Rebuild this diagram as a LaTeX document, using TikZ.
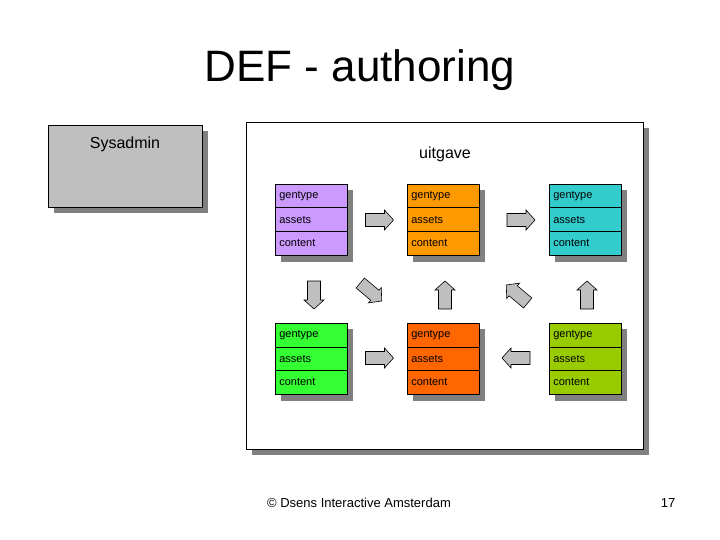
\documentclass[tikz,border=0pt]{standalone}
\usepackage{fontspec}
\setmainfont{Liberation Sans}
\begin{document}
\begin{tikzpicture}[x=1pt,y=-1pt,
  cell/.style={draw=black,line width=0.6pt,minimum width=72pt,minimum height=23.5pt,inner ysep=0pt,inner xsep=4pt,font=\fontsize{11}{13}\selectfont,anchor=north west,text width=64pt,align=left},
  barrow/.pic={\draw[fill=black!25,line width=0.6pt] (-14,-6.5)--(5,-6.5)--(5,-10)--(14,0)--(5,10)--(5,6.5)--(-14,6.5)--cycle;}]
\useasboundingbox (0,0) rectangle (720,540);
\node[font=\fontsize{44}{48}\selectfont] (title) at (360,70) {DEF - authoring};
% Sysadmin
\fill[black!50] (54,131) rectangle (208,213);
\draw[fill=black!25,line width=0.8pt] (48,125) rectangle (202,207);
\node[font=\fontsize{16}{18}\selectfont] (sys) at (125,144) {Sysadmin};
% uitgave
\fill[black!50] (252,128) rectangle (649,455);
\draw[fill=white,line width=0.8pt] (246,122) rectangle (643,449);
\node[font=\fontsize{16}{18}\selectfont] (uit) at (445,154) {uitgave};
% blocks
\foreach \n/\x/\y/\c in {a/275/184/CC99FF, b/407/184/FF9900, c/549/184/33CCCC, d/275/323/33FF33, e/407/323/FF6600, f/549/323/99CC00}{
  \definecolor{bc}{HTML}{\c}
  \fill[black!50] (\x+6,\y+6) rectangle (\x+78,\y+78);
  \node[cell,fill=bc] (\n1) at (\x,\y) {gentype};
  \node[cell,fill=bc] (\n2) at (\x,\y+23.5) {assets};
  \node[cell,fill=bc] (\n3) at (\x,\y+47) {content};
}
% arrows
\pic at (379.5,220) {barrow};
\pic at (521,220) {barrow};
\pic at (379.5,358) {barrow};
\pic[rotate=180] at (516,358) {barrow};
\pic[rotate=-90] at (314,295) {barrow};
\pic[rotate=90] at (445,295) {barrow};
\pic[rotate=90] at (587,295) {barrow};
\pic[rotate=-40] at (371,292) {barrow};
\pic[rotate=140] at (517,294) {barrow};
% footer
\node[font=\fontsize{13}{15}\selectfont] (foot) at (359,503) {© Dsens Interactive Amsterdam};
\node[font=\fontsize{13}{15}\selectfont] (num) at (668,503) {17};
\end{tikzpicture}
\end{document}
